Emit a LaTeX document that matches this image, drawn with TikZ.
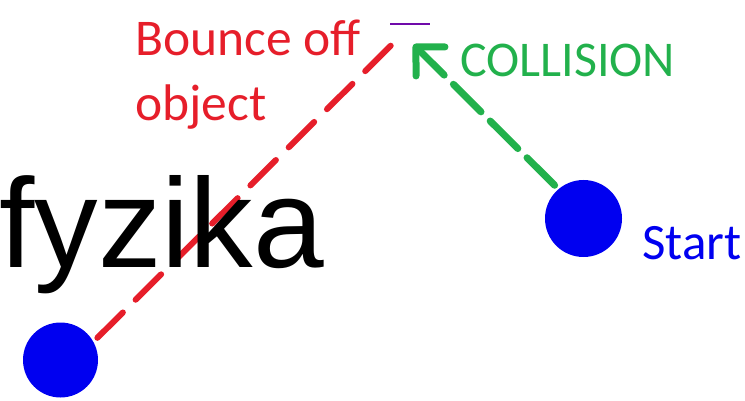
\documentclass[tikz,border=0pt]{standalone}
\usepackage{fontspec}
\setmainfont{Carlito}
\newfontfamily\arialfont{Liberation Sans}
\usetikzlibrary{arrows.meta}
\definecolor{paintred}{RGB}{230,30,42}
\definecolor{paintgreen}{RGB}{34,177,76}
\definecolor{paintblue}{RGB}{0,0,240}
\definecolor{paintpurple}{RGB}{112,10,170}
\tikzset{
  ball/.style={circle, fill=paintblue, draw=none, inner sep=0pt, outer sep=5.5pt},
  redpath/.style={draw=paintred, line width=6pt, line cap=round, dash pattern=on 36pt off 18pt},
  greenpath/.style={draw=paintgreen, line width=7pt, line cap=round, dash pattern=on 39pt off 13pt,
    -{Straight Barb[length=20.5pt, width=41pt, round]}},
  label/.style={inner sep=0pt, anchor=base west, font=\fontsize{50}{65}\selectfont, align=left}
}
\begin{document}
\begin{tikzpicture}[x=1pt, y=-1pt]
\useasboundingbox (0,0) rectangle (745,401);
\node[ball, minimum size=77pt] (start) at (583.5,218.5) {};
\node[ball, minimum size=75pt] (finish) at (60.5,360) {};
\coordinate (collision) at (413.5,44.5);
\coordinate (bounce) at (401,35.5);
\coordinate (markl) at (390,24);
\coordinate (markr) at (430,24);
\draw[paintpurple, line width=1.6pt] (markl) -- (markr);
\draw[redpath] (finish.31.5) -- (bounce);
\draw[greenpath] (start.131.3) -- (collision);
\node[label, text=paintred, font=\fontsize{51.5}{65}\selectfont] (bouncetext) at (135,121) {Bounce off\\object};
\node[label, text=paintgreen] (colltext) at (460,77) {COLLISION};
\node[label, text=paintblue, font=\fontsize{51}{65}\selectfont] (starttext) at (642,259) {Start};
\node[inner sep=0pt, anchor=base west, font=\arialfont\fontsize{127}{130}\selectfont] (fyz) at (-1,267) {fyzika};
\end{tikzpicture}
\end{document}
